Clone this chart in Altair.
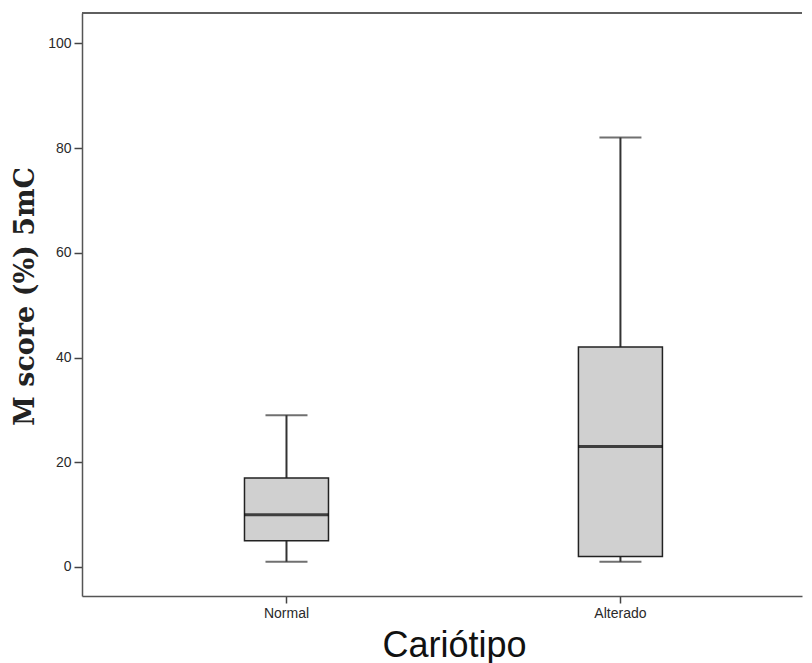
import altair as alt
import pandas as pd

categories = ["Normal", "Alterado"]
whisker_low = [1, 1]
q1 = [5, 2]
median = [10, 23]
q3 = [17, 42]
whisker_high = [29, 82]

y_ticks = [0, 20, 40, 60, 80, 100]

df = pd.DataFrame({
    "cat": categories,
    "lo": whisker_low,
    "q1": q1,
    "med": median,
    "q3": q3,
    "hi": whisker_high,
})

W = 720
H = 583

x_scale = alt.Scale(domain=categories, paddingInner=0, paddingOuter=0.078, align=0.72)
y_scale = alt.Scale(domain=[-5.54, 105.8], nice=False, zero=False)

x_enc = alt.X(
    "cat:N",
    scale=x_scale,
    sort=categories,
    axis=alt.Axis(
        title="Cariótipo",
        labelAngle=0,
        labelFont="Liberation Sans",
        labelFontSize=14,
        labelColor="#2a2a2a",
        labelPadding=3,
        tickSize=7,
        tickColor="#444444",
        tickWidth=1.5,
        domainColor="#555555",
        domainWidth=1.5,
        titleFont="Liberation Sans",
        titleFontSize=36,
        titleFontWeight="normal",
        titleColor="#111111",
        titleX=372,
        titleY=60,
        titleBaseline="alphabetic",
    ),
)

y_axis = alt.Axis(
    title="M score (%) 5mC",
    values=y_ticks,
    grid=False,
    labelFont="Liberation Sans",
    labelFontSize=14,
    labelColor="#2a2a2a",
    labelPadding=3,
    tickSize=8,
    tickColor="#444444",
    tickWidth=1.5,
    domainColor="#555555",
    domainWidth=1.5,
    titleFont="DejaVu Serif",
    titleFontSize=27,
    titleFontWeight="bold",
    titleColor="#222222",
    titleX=-49,
    titleY=283,
    titleBaseline="alphabetic",
    titleAngle=270,
)

base = alt.Chart(df)

whisker = base.mark_rule(color="#333333", strokeWidth=2).encode(
    x=x_enc,
    y=alt.Y("lo:Q", scale=y_scale, axis=y_axis),
    y2="hi:Q",
)

caps_low = base.mark_tick(color="#333333", thickness=2, size=42).encode(
    x=alt.X("cat:N", sort=categories), y=alt.Y("lo:Q")
)
caps_high = base.mark_tick(color="#333333", thickness=2, size=42).encode(
    x=alt.X("cat:N", sort=categories), y=alt.Y("hi:Q")
)

box = base.mark_bar(size=84, fill="#d0d0d0", stroke="#222222", strokeWidth=1.5).encode(
    x=alt.X("cat:N", sort=categories), y=alt.Y("q1:Q"), y2="q3:Q"
)

med = base.mark_tick(color="#000000", thickness=3, size=84).encode(
    x=alt.X("cat:N", sort=categories), y=alt.Y("med:Q")
)

top_border = alt.Chart(df).mark_rule(color="#555555", strokeWidth=1.5).encode(
    x=alt.value(0), x2=alt.value(W), y=alt.value(0)
)

chart = (
    alt.layer(whisker, caps_low, caps_high, box, med, top_border)
    .properties(width=W, height=H, padding={"left": 3, "top": 4, "right": 0, "bottom": 0})
    .configure_view(stroke=None)
)

chart.save("out.html", embed_options={"renderer": "svg", "actions": False})
